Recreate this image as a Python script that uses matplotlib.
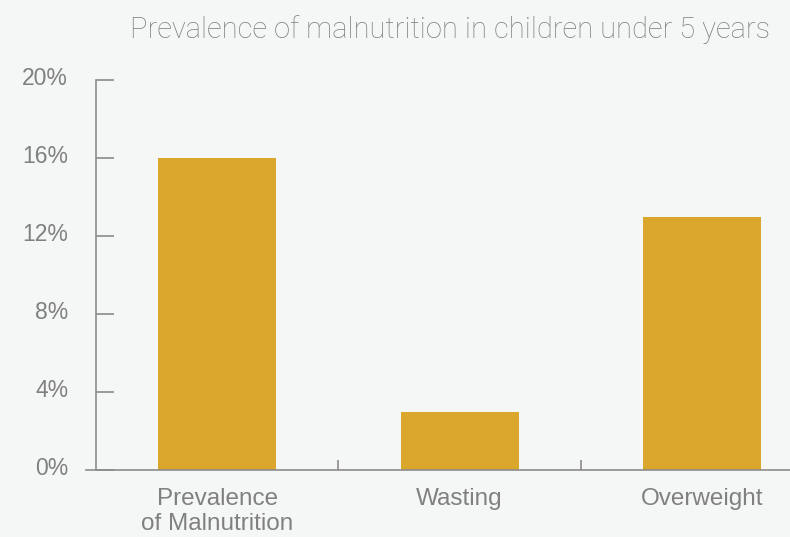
import matplotlib
matplotlib.use("Agg")
import matplotlib.pyplot as plt
import matplotlib.transforms as mtransforms

categories = ["Prevalence\nof Malnutrition", "Wasting", "Overweight"]
values = [16, 3, 13]
yticks = [0, 4, 8, 12, 16, 20]
ytick_labels = ["0%", "4%", "8%", "12%", "16%", "20%"]

bg = "#f5f7f6"
bar_color = "#dba62c"
axis_color = "#8c8c8c"
text_color = "#808080"

plt.rcParams["font.family"] = ["Liberation Sans", "DejaVu Sans"]

fig = plt.figure(figsize=(7.9, 5.37), dpi=100, facecolor=bg)
ax = fig.add_axes([86 / 790, 67 / 537, 1 - 86 / 790, 390 / 537])
ax.set_facecolor(bg)

x = list(range(len(categories)))
ax.bar(x, values, width=0.487, color=bar_color, zorder=2)

ax.set_ylim(0, 20)
ax.set_xlim(-0.5 - 10 / 242.5, 2.363)

for s in ["top", "right"]:
    ax.spines[s].set_visible(False)
ax.spines["left"].set_position(("data", -0.5))
ax.spines["left"].set_color(axis_color)
ax.spines["bottom"].set_color(axis_color)
ax.spines["left"].set_linewidth(1.2)
ax.spines["bottom"].set_linewidth(1.2)

# y ticks point inward (to the right)
ax.set_yticks(yticks)
ax.set_yticklabels(ytick_labels)
ax.tick_params(axis="y", direction="in", length=13, width=1.2, color=axis_color,
               labelsize=16.5, labelcolor=text_color, pad=20)
offset = mtransforms.ScaledTranslation(0, 3 / 72, fig.dpi_scale_trans)
for lab in ax.get_yticklabels():
    lab.set_transform(lab.get_transform() + offset)

# x ticks between categories, pointing up
ax.set_xticks([0.5, 1.5], minor=True)
ax.set_xticks(x)
ax.set_xticklabels(categories)
ax.tick_params(axis="x", which="major", length=0, labelsize=17.5,
               labelcolor=text_color, pad=13)
ax.tick_params(axis="x", which="minor", direction="in", length=7, width=1.2,
               color=axis_color)
for lab in ax.get_xticklabels():
    lab.set_linespacing(1.2)

fig.text(770 / 790, 1 - 30 / 537, "Prevalence of malnutrition in children under 5 years",
         ha="right", va="center", fontsize=21, color=text_color,
         family=["Roboto", "DejaVu Sans"], fontweight="light")

fig.savefig("out.png", dpi=100, facecolor=bg)
